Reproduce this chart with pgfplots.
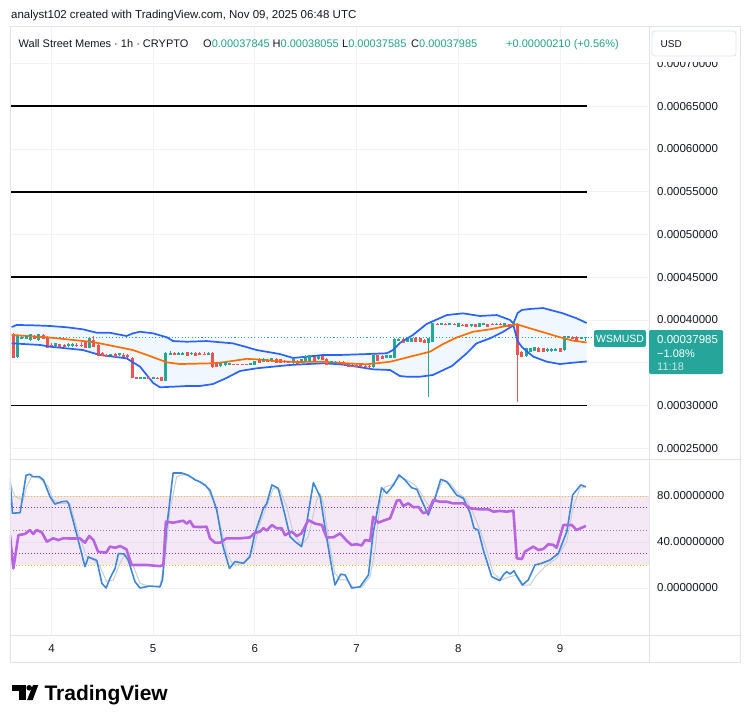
\documentclass[border=0pt]{standalone}
\usepackage{fontspec}
\setmainfont{Liberation Sans}
\usepackage{pgfplots}
\pgfplotsset{compat=1.18}
\usepackage{pgfplotstable}

\definecolor{up}{HTML}{26A69A}
\definecolor{dn}{HTML}{EF5350}
\definecolor{hdr}{HTML}{22A08C}
\definecolor{bbblue}{HTML}{2962FF}
\definecolor{bborange}{HTML}{FF6D00}
\definecolor{bbfill}{HTML}{F1F7FE}
\definecolor{gridc}{HTML}{F0F2F6}
\definecolor{borderc}{HTML}{E0E3EB}
\definecolor{txt}{HTML}{131722}
\definecolor{kblue}{HTML}{3D87D6}
\definecolor{dgray}{HTML}{C9CDD6}
\definecolor{rsi}{HTML}{B764E0}
\definecolor{bandc}{HTML}{9C27B0}
\definecolor{gold}{HTML}{EBC31C}
\definecolor{lvl}{HTML}{9C27B0}
\definecolor{midc}{HTML}{8D7F99}

\newcommand\fs[1]{\fontsize{#1}{#1}\selectfont}

% hourly candles (t = hours since Nov 4 00:00), rising ones
\pgfplotstableread{
t o h l c
-8 0.0003567 0.0003836 0.0003561 0.0003807
-7 0.0003778 0.0003813 0.0003772 0.0003789
-6 0.0003778 0.0003825 0.0003772 0.0003801
-5 0.0003766 0.0003836 0.0003760 0.0003825
-3 0.0003766 0.0003836 0.0003760 0.0003825
1 0.0003696 0.0003731 0.0003690 0.0003719
4 0.0003702 0.0003731 0.0003684 0.0003708
5 0.0003702 0.0003731 0.0003684 0.0003708
9 0.0003673 0.0003801 0.0003667 0.0003778
14 0.0003579 0.0003602 0.0003573 0.0003596
16 0.0003585 0.0003614 0.0003579 0.0003602
21 0.0003322 0.0003333 0.0003316 0.0003327
22 0.0003322 0.0003333 0.0003316 0.0003327
24 0.0003322 0.0003333 0.0003316 0.0003327
27 0.0003292 0.0003626 0.0003292 0.0003602
28 0.0003602 0.0003632 0.0003591 0.0003608
30 0.0003602 0.0003626 0.0003591 0.0003608
31 0.0003602 0.0003626 0.0003591 0.0003608
33 0.0003602 0.0003626 0.0003591 0.0003611
37 0.0003596 0.0003620 0.0003585 0.0003602
40 0.0003462 0.0003503 0.0003456 0.0003494
41 0.0003470 0.0003509 0.0003462 0.0003501
42 0.0003483 0.0003491 0.0003480 0.0003485
47 0.0003480 0.0003491 0.0003474 0.0003485
48 0.0003477 0.0003526 0.0003474 0.0003517
50 0.0003505 0.0003550 0.0003503 0.0003540
52 0.0003517 0.0003556 0.0003509 0.0003544
57 0.0003494 0.0003538 0.0003485 0.0003532
59 0.0003501 0.0003538 0.0003497 0.0003532
60 0.0003509 0.0003585 0.0003503 0.0003571
61 0.0003524 0.0003591 0.0003520 0.0003579
63 0.0003540 0.0003579 0.0003532 0.0003571
66 0.0003485 0.0003515 0.0003480 0.0003509
67 0.0003497 0.0003515 0.0003485 0.0003503
76 0.0003447 0.0003591 0.0003444 0.0003579
79 0.0003556 0.0003596 0.0003550 0.0003587
80 0.0003556 0.0003591 0.0003550 0.0003587
81 0.0003552 0.0003795 0.0003550 0.0003766
82 0.0003760 0.0003784 0.0003749 0.0003766
84 0.0003746 0.0003801 0.0003743 0.0003793
85 0.0003746 0.0003795 0.0003743 0.0003786
89 0.0003734 0.0003795 0.0003103 0.0003786
90 0.0003746 0.0003965 0.0003743 0.0003953
92 0.0003947 0.0003965 0.0003936 0.0003953
94 0.0003946 0.0003965 0.0003936 0.0003953
96 0.0003922 0.0003959 0.0003918 0.0003953
99 0.0003935 0.0003959 0.0003924 0.0003942
101 0.0003922 0.0003959 0.0003918 0.0003953
102 0.0003946 0.0003965 0.0003936 0.0003953
105 0.0003943 0.0003965 0.0003936 0.0003950
107 0.0003922 0.0003959 0.0003918 0.0003953
109 0.0003930 0.0003971 0.0003924 0.0003961
112 0.0003579 0.0003678 0.0003573 0.0003669
113 0.0003629 0.0003678 0.0003626 0.0003669
114 0.0003641 0.0003690 0.0003637 0.0003681
117 0.0003643 0.0003673 0.0003626 0.0003649
118 0.0003643 0.0003673 0.0003626 0.0003649
119 0.0003646 0.0003678 0.0003632 0.0003653
121 0.0003649 0.0003813 0.0003643 0.0003805
122 0.0003795 0.0003807 0.0003789 0.0003801
125 0.0003784 0.0003807 0.0003772 0.0003789
126 0.00037845 0.00038055 0.00037585 0.00037985
}\risec

% falling candles
\pgfplotstableread{
t o h l c
-9 0.0003836 0.0003848 0.0003561 0.0003567
-4 0.0003813 0.0003825 0.0003778 0.0003789
-2 0.0003825 0.0003836 0.0003778 0.0003789
-1 0.0003795 0.0003813 0.0003673 0.0003678
0 0.0003713 0.0003731 0.0003696 0.0003702
2 0.0003719 0.0003725 0.0003690 0.0003696
3 0.0003713 0.0003719 0.0003690 0.0003696
6 0.0003708 0.0003731 0.0003684 0.0003702
7 0.0003713 0.0003743 0.0003684 0.0003702
8 0.0003737 0.0003754 0.0003673 0.0003678
10 0.0003766 0.0003813 0.0003684 0.0003696
11 0.0003708 0.0003719 0.0003579 0.0003591
12 0.0003614 0.0003626 0.0003579 0.0003591
13 0.0003596 0.0003602 0.0003567 0.0003579
15 0.0003608 0.0003614 0.0003567 0.0003573
17 0.0003591 0.0003614 0.0003556 0.0003579
18 0.0003585 0.0003602 0.0003544 0.0003573
19 0.0003556 0.0003567 0.0003322 0.0003327
20 0.0003333 0.0003339 0.0003316 0.0003322
23 0.0003327 0.0003333 0.0003316 0.0003322
25 0.0003327 0.0003333 0.0003310 0.0003316
26 0.0003333 0.0003339 0.0003287 0.0003298
29 0.0003608 0.0003626 0.0003591 0.0003602
32 0.0003620 0.0003626 0.0003585 0.0003591
34 0.0003618 0.0003626 0.0003585 0.0003587
35 0.0003614 0.0003626 0.0003591 0.0003602
36 0.0003608 0.0003626 0.0003591 0.0003600
38 0.0003614 0.0003620 0.0003444 0.0003462
39 0.0003497 0.0003503 0.0003450 0.0003454
43 0.0003485 0.0003491 0.0003474 0.0003481
44 0.0003488 0.0003491 0.0003474 0.0003482
45 0.0003485 0.0003491 0.0003476 0.0003481
46 0.0003485 0.0003491 0.0003476 0.0003481
49 0.0003544 0.0003556 0.0003497 0.0003503
51 0.0003526 0.0003544 0.0003509 0.0003517
53 0.0003547 0.0003556 0.0003503 0.0003509
54 0.0003540 0.0003544 0.0003497 0.0003501
55 0.0003520 0.0003532 0.0003497 0.0003511
56 0.0003515 0.0003520 0.0003503 0.0003509
58 0.0003524 0.0003532 0.0003485 0.0003494
62 0.0003579 0.0003585 0.0003526 0.0003532
64 0.0003579 0.0003585 0.0003532 0.0003540
65 0.0003547 0.0003556 0.0003480 0.0003485
68 0.0003503 0.0003515 0.0003485 0.0003495
69 0.0003509 0.0003515 0.0003474 0.0003477
70 0.0003485 0.0003491 0.0003456 0.0003462
71 0.0003477 0.0003485 0.0003450 0.0003454
72 0.0003468 0.0003480 0.0003450 0.0003462
73 0.0003468 0.0003480 0.0003450 0.0003462
74 0.0003464 0.0003474 0.0003444 0.0003458
75 0.0003462 0.0003474 0.0003439 0.0003454
77 0.0003587 0.0003596 0.0003526 0.0003532
78 0.0003579 0.0003585 0.0003544 0.0003547
83 0.0003778 0.0003789 0.0003737 0.0003743
86 0.0003793 0.0003801 0.0003743 0.0003746
87 0.0003786 0.0003795 0.0003743 0.0003746
88 0.0003766 0.0003772 0.0003731 0.0003734
91 0.0003953 0.0003965 0.0003936 0.0003946
93 0.0003953 0.0003965 0.0003936 0.0003946
95 0.0003953 0.0003965 0.0003936 0.0003946
97 0.0003947 0.0003959 0.0003930 0.0003940
98 0.0003953 0.0003959 0.0003918 0.0003922
100 0.0003953 0.0003959 0.0003924 0.0003930
103 0.0003953 0.0003959 0.0003924 0.0003930
104 0.0003950 0.0003965 0.0003936 0.0003943
106 0.0003950 0.0003965 0.0003936 0.0003943
108 0.0003953 0.0003959 0.0003924 0.0003930
110 0.0003953 0.0003965 0.0003037 0.0003602
111 0.0003629 0.0003637 0.0003567 0.0003579
115 0.0003676 0.0003684 0.0003632 0.0003637
116 0.0003669 0.0003678 0.0003626 0.0003629
120 0.0003669 0.0003678 0.0003626 0.0003629
123 0.0003801 0.0003813 0.0003778 0.0003784
124 0.0003805 0.0003813 0.0003754 0.0003758
}\fallc

\pgfplotsset{
  pane/.style={
    scale only axis, width=639pt, xmin=-9.79, xmax=141.0,
    axis line style={draw=none}, major tick length=0pt,
    grid=major, major grid style={gridc, line width=0.8pt},
    xtick={0,24,48,72,96,120},
    yticklabel pos=right, scaled y ticks=false,
    yticklabel style={anchor=west, inner sep=0pt, xshift=8pt, font=\fs{11.5}, text=txt},
  },
  wickbars/.style={color=#1, only marks, mark=-, mark size=0pt, mark options={draw=#1, line width=0.1pt},
    error bars/y dir=plus, error bars/y explicit, error bars/error mark=none,
    error bars/error bar style={line width=1pt, draw=#1}},
  bodybars/.style={color=#1, only marks, mark=-, mark size=1.5pt, mark options={line width=1.1pt, draw=#1},
    error bars/y dir=both, error bars/y explicit, error bars/error mark=none,
    error bars/error bar style={line width=3pt, line cap=butt, draw=#1}},
}

\begin{document}
\begin{tikzpicture}
\path[use as bounding box, fill=white] (0pt,0pt) rectangle (750pt,-723pt);

% ---------------- price pane ----------------
\begin{axis}[pane, at={(10pt,-459pt)}, anchor=south west, height=433pt,
  ymin=0.00023743, ymax=0.00074386,
  ytick={0.00025,0.0003,0.00035,0.0004,0.00045,0.0005,0.00055,0.0006,0.00065,0.0007},
  yticklabels={0.00025000,0.00030000,{},0.00040000,0.00045000,0.00050000,0.00055000,0.00060000,0.00065000,0.00070000},
  xticklabels={}]

% Bollinger band area (upper edge, then lower edge backwards)
\addplot[draw=none, fill=bbfill] coordinates {
(-9.4,0.0003918) (-8.2,0.0003942) (-4.4,0.0003938) (-0.35,0.000393) (3.6,0.0003915) (7.4,0.0003891)
(10.7,0.0003851) (13.8,0.0003851) (17.7,0.0003813) (19.2,0.0003844) (20.9,0.0003863) (24.0,0.0003844)
(27.2,0.0003798) (28.7,0.0003754) (31.9,0.0003746) (36.6,0.0003754) (42.8,0.0003727) (45.7,0.0003688)
(48.4,0.0003649) (53.9,0.0003602) (57.0,0.0003556) (60.2,0.0003571) (64.1,0.0003591) (68.1,0.0003591)
(73.5,0.00036) (79.1,0.0003611) (80.6,0.0003649) (82.2,0.0003731) (85.3,0.0003825) (88.5,0.0003953)
(93.3,0.0004058) (97.1,0.0004078) (101.1,0.0004047) (105.1,0.0004058) (108.2,0.0004) (109,0.0003959)
(110,0.0004082) (111,0.0004117) (112.9,0.0004129) (116.0,0.000414) (120.7,0.0004078) (123.9,0.000402) (126.3,0.0003965)
(126.3,0.0003515) (123.1,0.0003501) (120.0,0.0003485) (116.9,0.0003512) (113.7,0.0003571) (112.1,0.0003637)
(111,0.0003684) (110,0.0003754) (109,0.0003936) (108,0.0003906) (106.6,0.0003863) (103.5,0.0003786)
(100.3,0.0003727) (98.0,0.0003611) (94.5,0.0003462) (90.0,0.0003357) (87.0,0.0003337) (83.8,0.0003337)
(82.2,0.0003345) (79.9,0.0003415) (75.9,0.0003423) (72.0,0.0003454) (68.1,0.0003482) (64.1,0.0003494)
(56.3,0.0003474) (48.4,0.0003435) (44.5,0.0003404) (41.3,0.0003322) (38.1,0.0003251) (35.0,0.0003228)
(31.9,0.0003228) (28.7,0.000322) (25.6,0.0003213) (24.0,0.0003263) (20.9,0.0003454) (17.7,0.0003552)
(11.4,0.0003591) (7.4,0.0003649) (-0.35,0.0003688) (-2.7,0.0003708) (-9.4,0.0003727)} -- cycle;

% horizontal levels
\addplot[black, line width=1.8pt] coordinates {(-9.79,0.00065) (126.4,0.00065)};
\addplot[black, line width=1.8pt] coordinates {(-9.79,0.00055) (126.4,0.00055)};
\addplot[black, line width=1.8pt] coordinates {(-9.79,0.00045) (126.4,0.00045)};
\addplot[black, line width=1.8pt] coordinates {(-9.79,0.0003) (126.4,0.0003)};

% last price line
\addplot[up, line width=1.1pt, dash pattern=on 1.1pt off 2.2pt] coordinates {(-9.79,0.00037985) (128,0.00037985)};

% candles: wicks low to high, bodies from close to open
\addplot[wickbars=up] table[x=t, y=l, y error plus expr=\thisrow{h}-\thisrow{l}] {\risec};
\addplot[wickbars=dn] table[x=t, y=l, y error plus expr=\thisrow{h}-\thisrow{l}] {\fallc};
\addplot[bodybars=up] table[x=t, y=c, y error plus expr=0, y error minus expr=\thisrow{c}-\thisrow{o}] {\risec};
\addplot[bodybars=dn] table[x=t, y=c, y error plus expr=\thisrow{o}-\thisrow{c}, y error minus expr=0] {\fallc};

% band lines and basis
\addplot[bbblue, line width=1.7pt, line join=round] coordinates {
(-9.4,0.0003918) (-8.2,0.0003942) (-4.4,0.0003938) (-0.35,0.000393) (3.6,0.0003915) (7.4,0.0003891)
(10.7,0.0003851) (13.8,0.0003851) (17.7,0.0003813) (19.2,0.0003844) (20.9,0.0003863) (24.0,0.0003844)
(27.2,0.0003798) (28.7,0.0003754) (31.9,0.0003746) (36.6,0.0003754) (42.8,0.0003727) (45.7,0.0003688)
(48.4,0.0003649) (53.9,0.0003602) (57.0,0.0003556) (60.2,0.0003571) (64.1,0.0003591) (68.1,0.0003591)
(73.5,0.00036) (79.1,0.0003611) (80.6,0.0003649) (82.2,0.0003731) (85.3,0.0003825) (88.5,0.0003953)
(93.3,0.0004058) (97.1,0.0004078) (101.1,0.0004047) (105.1,0.0004058) (108.2,0.0004) (109,0.0003959)
(110,0.0004082) (111,0.0004117) (112.9,0.0004129) (116.0,0.000414) (120.7,0.0004078) (123.9,0.000402) (126.3,0.0003965)};
\addplot[bbblue, line width=1.7pt, line join=round] coordinates {
(-9.4,0.0003727) (-2.7,0.0003708) (-0.35,0.0003688) (7.4,0.0003649) (11.4,0.0003591) (17.7,0.0003552)
(20.9,0.0003454) (24.0,0.0003263) (25.6,0.0003213) (28.7,0.000322) (31.9,0.0003228) (35.0,0.0003228)
(38.1,0.0003251) (41.3,0.0003322) (44.5,0.0003404) (48.4,0.0003435) (56.3,0.0003474) (64.1,0.0003494)
(68.1,0.0003482) (72.0,0.0003454) (75.9,0.0003423) (79.9,0.0003415) (82.2,0.0003345) (83.8,0.0003337)
(87.0,0.0003337) (90.0,0.0003357) (94.5,0.0003462) (98.0,0.0003611) (100.3,0.0003727) (103.5,0.0003786)
(106.6,0.0003863) (108,0.0003906) (109,0.0003936) (110,0.0003754) (111,0.0003684) (112.1,0.0003637)
(113.7,0.0003571) (116.9,0.0003512) (120.0,0.0003485) (123.1,0.0003501) (126.3,0.0003515)};
\addplot[bborange, line width=1.7pt, line join=round] coordinates {
(-9.4,0.0003825) (-1.1,0.0003798) (9.1,0.0003746) (11.4,0.0003727) (19.2,0.0003649) (23.2,0.0003579)
(27.2,0.0003505) (30.3,0.0003485) (38.1,0.0003494) (40.5,0.0003505) (46.1,0.0003546) (50.8,0.0003532)
(52.3,0.000352) (57.9,0.0003509) (64.1,0.0003512) (69.7,0.0003494) (74.4,0.0003482) (76.7,0.0003494)
(79.9,0.0003512) (82.2,0.000354) (84.6,0.0003571) (89.3,0.0003629) (92.4,0.0003719) (95.6,0.0003795)
(99.5,0.0003863) (103.5,0.0003891) (106.5,0.0003922) (109.8,0.000395) (112.9,0.0003903) (116.9,0.0003844)
(120.0,0.0003798) (123.1,0.0003758) (126.3,0.0003737)};
\end{axis}

% ---------------- oscillator pane ----------------
\begin{axis}[pane, at={(10pt,-635pt)}, anchor=south west, height=176pt,
  ymin=-40.87, ymax=112.17, ytick={0,40,80},
  yticklabels={0.00000000,40.00000000,80.00000000},
  xticklabels={4,5,6,7,8,9},
  xticklabel style={anchor=base, yshift=-17pt, font=\fs{11.5}, text=txt}]

\addplot[draw=none, fill=bandc, fill opacity=0.1] coordinates {(-12,20) (145,20) (145,80) (-12,80)} -- cycle;
\addplot[gold, line width=1pt, dash pattern=on 1pt off 2pt] coordinates {(-9.79,80) (141,80)};
\addplot[gold, line width=1pt, dash pattern=on 1pt off 2pt] coordinates {(-9.79,20) (141,20)};
\addplot[lvl, line width=1pt, dash pattern=on 1pt off 2pt] coordinates {(-9.79,70) (141,70)};
\addplot[lvl, line width=1pt, dash pattern=on 1pt off 2pt] coordinates {(-9.79,30) (141,30)};
\addplot[midc, line width=1pt, dash pattern=on 1pt off 2pt] coordinates {(-9.79,50) (141,50)};

% stochastic %D
\addplot[dgray, line width=1pt, line join=round] coordinates {
(-9.8,91) (-8.6,79.4) (-6.65,76.5) (-5.85,88.1) (-4.67,96.8) (-2.71,95.4) (-0.76,88.1) (0.42,76.5)
(2.0,73.6) (4.37,73.6) (6.32,47.5) (8.31,27.2) (9.86,24.3) (11.45,18.6) (13.03,5.5) (14.58,7)
(16.17,21.4) (17.35,30.1) (18.93,22.9) (20.88,4.1) (23.24,1.2) (25.6,1.7) (26.78,24.3) (27.96,67.8)
(29.55,96.8) (31.5,99.1) (33.46,95.4) (36.63,88.1) (38.18,76.5) (39.76,56.2) (41.35,30.1) (42.9,20)
(45.26,21.4) (47.62,33) (49.2,56.2) (50.78,70.7) (52.34,86.7) (53.92,85.2) (55.5,70.7) (57.06,47.5)
(59.04,37.4) (60.6,44.6) (62.58,76.5) (63.36,82.3) (64.14,73.6) (65.72,36) (66.9,12.8) (68.1,7)
(69.66,7) (71.22,0.5) (73.2,0.5) (75.17,9.9) (76.35,33) (77.53,73.6) (78.7,88.1) (80.28,89.6)
(82.24,96.8) (83.82,94) (85.78,89.6) (86.96,83.8) (89.32,69.3) (90.9,82.3) (92.46,94) (94.04,91)
(95.62,83.8) (97.98,76.5) (99.54,64.9) (101.12,50.4) (102.7,33) (104.26,12.8) (106.24,7) (108.2,9.9)
(109.78,11.3) (111.34,2.6) (112.92,2.6) (114.5,11.3) (116.86,20) (119.22,25.8) (121.58,40.3)
(123.14,70.7) (124.72,86.7) (126.14,88.1)};

% stochastic %K
\addplot[kblue, line width=1.6pt, line join=round] coordinates {
(-9.8,95.4) (-9.2,65) (-7.4,65.5) (-6.0,98) (-5.1,99) (-4.4,96.8) (-2.9,96.8) (-1.9,94) (-0.35,79.4)
(0.8,73) (2.4,75) (3.6,75.5) (4.0,74) (6.0,46) (7.9,18.5) (8.7,27) (10.7,24) (11.9,4) (12.9,0)
(13.8,8.4) (15.0,17) (15.8,30) (17.1,29.6) (18.1,24.3) (19.7,5.5) (20.9,0) (23.2,1.7) (25.6,1) (26.2,7)
(27.2,53) (28.7,100) (30.7,100) (32.3,98) (33.9,94) (35.0,92.4) (36.2,89.6) (37.4,85) (39.0,68)
(40.5,36) (42.0,17) (43.3,23) (45.3,21.5) (46.8,27) (48.0,47.5) (50.0,69.3) (50.8,73.6) (52.0,89.6)
(53.5,86.7) (55.1,63.5) (56.3,44.6) (57.5,40.3) (59.0,36) (60.2,56) (61.8,91.6) (63.4,79.4) (64.9,44.6)
(66.1,18.5) (66.9,2.6) (68.25,12) (69.3,11.3) (70.85,0) (72.8,1) (74.8,11.3) (75.9,47.5) (77.9,87.2)
(79.1,82.3) (80.7,89.6) (82.0,98.3) (83.4,94) (85.0,87.2) (86.2,85.8) (88.9,63.5) (90.5,78) (91.85,94.5)
(93.3,92.4) (95.6,80.9) (97.2,78) (98.8,65) (99.7,52) (100.7,50.4) (101.9,33) (103.9,9.8) (105.8,6.4)
(106.6,11.3) (107.4,14.2) (108.2,12.2) (109.15,15) (109.9,9.8) (111.1,2.6) (112.5,7) (114.1,20)
(115.7,21.5) (117.6,24.3) (119.6,30) (121.6,49) (123.0,81) (124.9,89.6) (126.1,88)};

% RSI
\addplot[rsi, line width=2.6pt, line join=round] coordinates {
(-9.8,46) (-9.0,17) (-7.8,46) (-6.25,47) (-5.1,50.4) (-4.3,47) (-3.5,50.4) (-2.3,48.5) (-1.1,40.3)
(0.4,43.2) (1.6,41.7) (2.8,43.2) (5.1,43) (6.7,43.2) (7.9,39.4) (8.9,45.2) (9.9,41.7) (11.0,31.6)
(12.9,30.7) (13.8,36) (15.0,35) (16.2,36.5) (17.7,33.6) (18.9,20) (22.5,20) (25.6,19) (26.4,20)
(27.0,57.7) (28.7,56.8) (31.1,58.5) (31.9,56) (32.7,58.3) (33.5,53.3) (35.0,53) (36.6,53.3) (37.4,43.2)
(38.6,39.4) (39.8,39.4) (41.3,43.2) (44.5,43.2) (46.8,44) (48.0,48) (49.2,49) (50.0,52) (50.8,50)
(52.0,54.8) (53.1,52) (54.3,52) (55.1,46) (56.7,49) (57.9,45.2) (59.0,47.5) (60.6,59) (62.2,56)
(63.8,54.8) (64.9,44) (66.5,44) (68.1,47.5) (69.7,41) (70.8,37.4) (72.0,38) (73.2,37) (74.0,41.7)
(75.2,41) (75.9,62) (77.1,56.8) (78.3,58.5) (79.9,60.6) (81.5,76) (82.2,76.5) (83.0,71.3) (84.2,73.6)
(85.4,70.2) (86.6,70.5) (87.7,65) (88.9,66.4) (90.1,76.5) (91.7,75) (93.3,75) (94.8,73.6) (97.2,73.6)
(98.8,69.3) (101.1,68.4) (103.1,68.4) (104.3,66.4) (105.8,67) (107.4,66.4) (109.0,67.2) (109.8,25.8)
(111.0,25.2) (111.7,31.6) (113.7,36) (114.9,33) (116.1,34) (117.2,38) (118.4,37.5) (119.2,35)
(120.8,54.8) (122.8,54.8) (123.9,50.4) (126.1,54)};
\end{axis}

% ---------------- frame ----------------
\fill[white] (650pt,-30pt) rectangle (739pt,-62pt);
\draw[borderc, line width=1pt] (10pt,-26pt) rectangle (740pt,-662pt);
\draw[borderc, line width=1pt] (649pt,-26pt) -- (649pt,-662pt);
\draw[borderc, line width=1pt] (10pt,-459pt) -- (740pt,-459pt);
\draw[borderc, line width=1pt] (10pt,-635pt) -- (740pt,-635pt);

% ---------------- labels ----------------
\node[anchor=base west, inner sep=0pt, font=\fs{11.5}, text=txt] at (11pt,-18pt)
  {analyst102 created with TradingView.com, Nov 09, 2025 06:48 UTC};

\begin{scope}[every node/.style={anchor=base west, inner sep=0pt, font=\fs{11}, text=txt}]
\node at (18.5pt,-47pt) {Wall Street Memes · 1h · CRYPTO};
\node at (203pt,-47pt) {O\textcolor{hdr}{0.00037845}};
\node at (272.5pt,-47pt) {H\textcolor{hdr}{0.00038055}};
\node at (342pt,-47pt) {L\textcolor{hdr}{0.00037585}};
\node at (411pt,-47pt) {C\textcolor{hdr}{0.00037985}};
\node at (506pt,-47pt) {\textcolor{hdr}{+0.00000210 (+0.56\%)}};
\end{scope}

% currency box
\draw[borderc, fill=white, rounded corners=3pt, line width=0.8pt] (652pt,-31pt) rectangle (736pt,-56pt);
\node[anchor=base west, inner sep=0pt, font=\fs{10}, text=txt] at (660.5pt,-47pt) {USD};

% symbol label and last price tag
\fill[up, rounded corners=2pt] (594pt,-330pt) rectangle (646pt,-347pt);
\node[anchor=center, inner sep=0pt, font=\fs{10.5}, text=white] at (620pt,-338.5pt) {WSMUSD};
\fill[up, rounded corners=1.5pt] (649pt,-330pt) rectangle (723pt,-374pt);
\node[anchor=base west, inner sep=0pt, font=\fs{11.5}, text=white] at (657pt,-343pt) {0.00037985};
\node[anchor=base west, inner sep=0pt, font=\fs{11}, text=white] at (657pt,-357pt) {−1.08\%};
\node[anchor=base west, inner sep=0pt, font=\fs{11}, text=white, opacity=0.75] at (657pt,-370.5pt) {11:18};

% brand mark
\fill[black] (12.3pt,-685pt) rectangle (25.7pt,-690.5pt);
\fill[black] (19pt,-685pt) rectangle (25.7pt,-700pt);
\fill[black] (29.2pt,-687.8pt) circle (2.8pt);
\fill[black] (27pt,-700pt) -- (32.7pt,-700pt) -- (38.3pt,-685pt) -- (33pt,-685pt) -- cycle;
\node[anchor=base west, inner sep=0pt, font=\bfseries\fs{21}, text=black] at (44.3pt,-700pt) {TradingView};
\end{tikzpicture}
\end{document}
